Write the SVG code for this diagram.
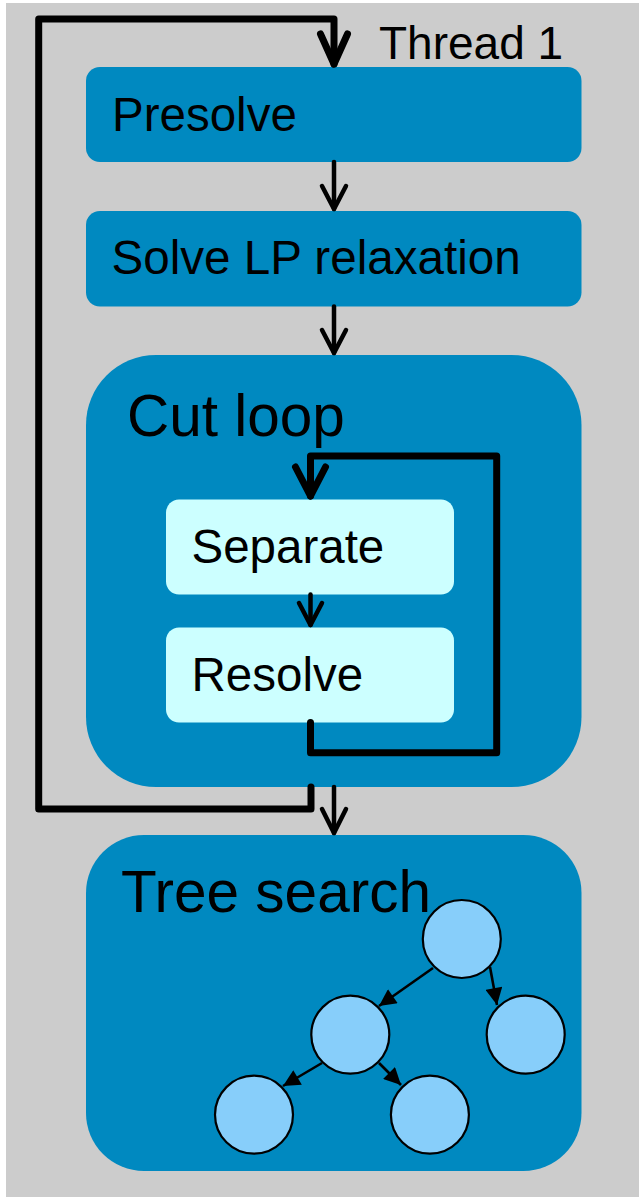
<svg xmlns="http://www.w3.org/2000/svg" width="639" height="1197" viewBox="0 0 639 1197">
  <style>
    .lbl { font-family: "Liberation Sans", Arial, sans-serif; fill: #000; }
    .stage { fill: #0089c0; }
    .inner { fill: #ccffff; }
    .thick { fill: none; stroke: #000; stroke-width: 7; stroke-linejoin: round; stroke-linecap: round; }
    .thin { fill: none; stroke: #000; stroke-width: 4.5; stroke-linecap: round; stroke-linejoin: round; }
    .node { fill: #87cefa; stroke: #000; stroke-width: 2.2; }
    .edge { fill: none; stroke: #000; stroke-width: 2.6; }
  </style>
  <defs>
    <marker id="tri" viewBox="0 0 10 10" refX="10" refY="5" markerWidth="7.5" markerHeight="6.5" markerUnits="strokeWidth" orient="auto">
      <path d="M0,0 L10,5 L0,10 z" fill="#000"/>
    </marker>
  </defs>

  <!-- canvas -->
  <rect x="0" y="0" width="639" height="1197" fill="#ffffff"/>
  <rect x="6" y="3" width="633" height="1194" fill="#cccccc"/>

  <g id="thread-label">
    <text class="lbl" x="379" y="59" font-size="46">Thread 1</text>
  </g>

  <g id="presolve">
    <rect class="stage" x="86" y="67" width="495.5" height="95" rx="14"/>
    <text class="lbl" x="112" y="131" font-size="47.5">Presolve</text>
  </g>

  <g id="solve-lp">
    <rect class="stage" x="86" y="211" width="495.5" height="95.5" rx="14"/>
    <text class="lbl" x="111.5" y="274" font-size="47.6">Solve LP relaxation</text>
  </g>

  <g id="cut-loop">
    <rect class="stage" x="86" y="355" width="495.5" height="432" rx="70"/>
    <text class="lbl" x="127" y="436" font-size="58.5">Cut loop</text>
  </g>

  <g id="separate">
    <rect class="inner" x="166" y="499.5" width="288" height="95" rx="13"/>
    <text class="lbl" x="191.5" y="563" font-size="47.5">Separate</text>
  </g>

  <g id="resolve">
    <rect class="inner" x="166" y="627.5" width="288" height="95" rx="13"/>
    <text class="lbl" x="191.5" y="691" font-size="47.5">Resolve</text>
  </g>

  <g id="tree-search">
    <rect class="stage" x="86" y="835" width="495.5" height="336" rx="58"/>
    <text class="lbl" x="121" y="912" font-size="58.5">Tree search</text>
  </g>

  <g id="connectors">
    <!-- outer restart loop back to presolve -->
    <path class="thick" d="M311,787 V809 H38.7 V19 H334 V64"/>
    <path class="thick" d="M320.5,34 L334,64 L347.5,34"/>

    <!-- presolve -> LP -->
    <path class="thin" d="M334,162 V209"/>
    <path class="thin" d="M322,186 L334,209 L346,186"/>

    <!-- LP -> cut loop -->
    <path class="thin" d="M334,306.5 V353"/>
    <path class="thin" d="M322,330 L334,353 L346,330"/>

    <!-- inner cut loop -->
    <path class="thick" d="M310.5,722.5 V752.7 H496.7 V456 H310.5 V496"/>
    <path class="thick" d="M295.5,467 L310.5,496 L325.5,467"/>

    <!-- separate -> resolve -->
    <path class="thin" d="M310.5,594.5 V625"/>
    <path class="thin" d="M299,603 L310.5,625 L322,603"/>

    <!-- cut loop -> tree search -->
    <path class="thin" d="M334,787 V833"/>
    <path class="thin" d="M322,809 L334,833 L346,809"/>

    <!-- search tree edges -->
    <line class="edge" x1="433" y1="968" x2="379" y2="1006" marker-end="url(#tri)"/>
    <line class="edge" x1="490" y1="967" x2="497" y2="1005" marker-end="url(#tri)"/>
    <line class="edge" x1="322" y1="1063" x2="283" y2="1086" marker-end="url(#tri)"/>
    <line class="edge" x1="379" y1="1063" x2="401" y2="1085" marker-end="url(#tri)"/>
  </g>

  <g id="tree-nodes">
    <ellipse class="node" cx="461.8" cy="939" rx="39" ry="39"/>
    <ellipse class="node" cx="350.3" cy="1034.7" rx="39" ry="39"/>
    <ellipse class="node" cx="525.7" cy="1034.7" rx="39" ry="39"/>
    <ellipse class="node" cx="254" cy="1114.7" rx="39" ry="39"/>
    <ellipse class="node" cx="429.9" cy="1114.7" rx="39" ry="39"/>
  </g>
</svg>
